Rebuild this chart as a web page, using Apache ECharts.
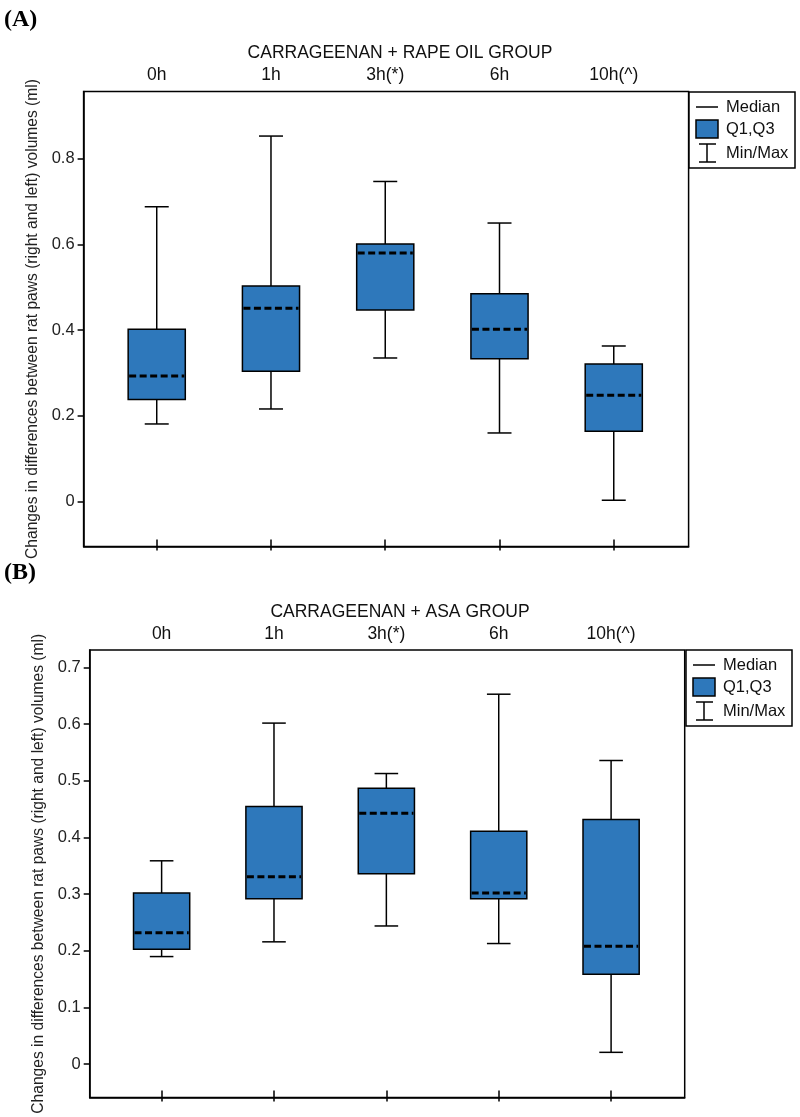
<html lang="en">
<head>
    <meta charset="UTF-8">
    <title>Carrageenan paw volume box plots</title>
    <script src="https://cdn.jsdelivr.net/npm/echarts@6.0.0/dist/echarts.min.js"></script>
</head>
<style>
    html, body { margin: 0; padding: 0; background: #fff; }
    #container { width: 800px; height: 1117px; }
</style>
<body>
<div id="container"></div>
<script>
    // categories (time points)
    var hours = ['0h', '1h', '3h(*)', '6h', '10h(^)'];
    var yTicksA = [0, 0.2, 0.4, 0.6, 0.8];
    var yTicksB = [0, 0.1, 0.2, 0.3, 0.4, 0.5, 0.6, 0.7];

    // (A) carrageenan + rape oil
    var rapeMin    = [0.181, 0.216, 0.335, 0.160, 0.003];
    var rapeQ1     = [0.238, 0.304, 0.447, 0.333, 0.164];
    var rapeMedian = [0.293, 0.451, 0.580, 0.402, 0.248];
    var rapeQ3     = [0.402, 0.503, 0.601, 0.485, 0.321];
    var rapeMax    = [0.688, 0.853, 0.747, 0.650, 0.363];

    // (B) carrageenan + ASA
    var asaMin    = [0.190, 0.216, 0.244, 0.213, 0.021];
    var asaQ1     = [0.203, 0.292, 0.336, 0.292, 0.159];
    var asaMedian = [0.232, 0.331, 0.443, 0.302, 0.208];
    var asaQ3     = [0.302, 0.455, 0.487, 0.411, 0.432];
    var asaMax    = [0.359, 0.602, 0.513, 0.653, 0.536];

    var BLUE = '#2e78bb';
    var FONT = 'Liberation Sans, Arial, sans-serif';
    var X_MIN = -0.64, X_MAX = 4.655;
    var xPos = hours.map(function (h, i) { return i; });

    function boxData(mn, q1, md, q3, mx) {
        return hours.map(function (h, i) {
            return [i, mn[i], q1[i], md[i], q3[i], mx[i]];
        });
    }

    // box, whiskers, caps and dashed median
    function renderBox(params, api) {
        var x = api.value(0);
        var lo = api.coord([x, api.value(1)]);
        var q1 = api.coord([x, api.value(2)]);
        var md = api.coord([x, api.value(3)]);
        var q3 = api.coord([x, api.value(4)]);
        var hi = api.coord([x, api.value(5)]);
        var unit = api.size([1, 0])[0];
        var bw = unit * 0.25, cw = unit * 0.105;
        var st = { stroke: '#000', lineWidth: 1.5 };
        return {
            type: 'group',
            children: [
                { type: 'line', shape: { x1: hi[0], y1: hi[1], x2: q3[0], y2: q3[1] }, style: st },
                { type: 'line', shape: { x1: q1[0], y1: q1[1], x2: lo[0], y2: lo[1] }, style: st },
                { type: 'line', shape: { x1: hi[0] - cw, y1: hi[1], x2: hi[0] + cw, y2: hi[1] }, style: st },
                { type: 'line', shape: { x1: lo[0] - cw, y1: lo[1], x2: lo[0] + cw, y2: lo[1] }, style: st },
                { type: 'rect', shape: { x: q3[0] - bw, y: q3[1], width: bw * 2, height: q1[1] - q3[1] },
                  style: { fill: BLUE, stroke: '#000', lineWidth: 1.5 } },
                { type: 'line', shape: { x1: md[0] - bw + 1, y1: md[1], x2: md[0] + bw - 1, y2: md[1] },
                  style: { stroke: '#000', lineWidth: 3, lineDash: [7, 3.5] } }
            ]
        };
    }

    function xAxes(gi) {
        var base = { type: 'value', gridIndex: gi, min: X_MIN, max: X_MAX, splitLine: { show: false } };
        return [
            Object.assign({}, base, {
                position: 'bottom',
                axisLine: { show: true, onZero: false, lineStyle: { color: '#000', width: 1.5 } },
                axisTick: { show: true, inside: false, length: 4, customValues: xPos, lineStyle: { color: '#000', width: 1.5 } },
                axisLabel: { show: false }
            }),
            Object.assign({}, base, {
                position: 'bottom',
                axisLine: { show: false, onZero: false },
                axisTick: { show: true, inside: true, length: 7, customValues: xPos, lineStyle: { color: '#000', width: 1.5 } },
                axisLabel: { show: false }
            }),
            Object.assign({}, base, {
                position: 'top',
                axisLine: { show: false, onZero: false },
                axisTick: { show: false },
                axisLabel: {
                    show: true, customValues: xPos, margin: 7,
                    fontSize: 17.5, color: '#111', fontFamily: FONT,
                    formatter: function (v) { return hours[Math.round(v)]; }
                }
            })
        ];
    }

    function yAxis(gi, mn, mx, ticks) {
        return {
            type: 'value', gridIndex: gi, min: mn, max: mx,
            name: 'Changes in differences between rat paws (right and left) volumes (ml)',
            nameLocation: 'middle', nameGap: 40,
            nameTextStyle: { fontSize: 15.6, color: '#222', fontFamily: FONT },
            axisLine: { show: true, onZero: false, lineStyle: { color: '#000', width: 1.5 } },
            axisTick: { show: true, length: 6, customValues: ticks, lineStyle: { color: '#000', width: 1.5 } },
            axisLabel: {
                customValues: ticks, margin: 9, fontSize: 16.5, color: '#222', fontFamily: FONT,
                formatter: function (v) { return v === 0 ? '0' : v.toFixed(1); }
            },
            splitLine: { show: false }
        };
    }

    function legendBox(x0, y0) {
        var st = { stroke: '#000', lineWidth: 1.5 };
        var ts = { fontSize: 16.5, fill: '#111', fontFamily: FONT, verticalAlign: 'middle' };
        return [
            { type: 'rect', shape: { x: x0, y: y0, width: 106, height: 76 }, style: { fill: '#fff', stroke: '#000', lineWidth: 1.5 } },
            { type: 'line', shape: { x1: x0 + 7, y1: y0 + 15, x2: x0 + 29, y2: y0 + 15 }, style: st },
            { type: 'text', x: x0 + 37, y: y0 + 15, style: Object.assign({ text: 'Median' }, ts) },
            { type: 'rect', shape: { x: x0 + 7, y: y0 + 28, width: 22, height: 18 }, style: { fill: BLUE, stroke: '#000', lineWidth: 1.5 } },
            { type: 'text', x: x0 + 37, y: y0 + 37, style: Object.assign({ text: 'Q1,Q3' }, ts) },
            { type: 'line', shape: { x1: x0 + 18, y1: y0 + 52, x2: x0 + 18, y2: y0 + 70 }, style: st },
            { type: 'line', shape: { x1: x0 + 10, y1: y0 + 52, x2: x0 + 27, y2: y0 + 52 }, style: st },
            { type: 'line', shape: { x1: x0 + 10, y1: y0 + 70, x2: x0 + 27, y2: y0 + 70 }, style: st },
            { type: 'text', x: x0 + 37, y: y0 + 61, style: Object.assign({ text: 'Min/Max' }, ts) }
        ];
    }

    var chart = echarts.init(document.getElementById('container'), null, { renderer: 'canvas' });

    var titleStyle = { fontSize: 17.5, fontWeight: 'normal', color: '#111', fontFamily: FONT };
    var panelStyle = {
        fontSize: 24, color: '#000', fontFamily: 'Liberation Serif, Times New Roman, serif',
        rich: { b: { fontSize: 24, fontWeight: 'bold', fontFamily: 'Liberation Serif, Times New Roman, serif' } }
    };

    var option = {
        backgroundColor: '#fff',
        animation: false,
        title: [
            { text: '({b|A})', left: 4, top: 8, padding: 0, textStyle: panelStyle },
            { text: 'CARRAGEENAN + RAPE OIL GROUP', left: 'center', top: 44, padding: 0, textStyle: titleStyle },
            { text: '({b|B})', left: 4, top: 561, padding: 0, textStyle: panelStyle },
            { text: 'CARRAGEENAN + ASA GROUP', left: 'center', top: 603, padding: 0, textStyle: titleStyle }
        ],
        grid: [
            { left: 83.6, top: 91.5, width: 605, height: 455, show: true, borderColor: '#000', borderWidth: 1.5, backgroundColor: '#fff' },
            { left: 89.7, top: 650, width: 595, height: 447.5, show: true, borderColor: '#000', borderWidth: 1.5, backgroundColor: '#fff' }
        ],
        xAxis: xAxes(0).concat(xAxes(1)),
        yAxis: [
            yAxis(0, -0.105, 0.957, yTicksA),
            yAxis(1, -0.0587, 0.731, yTicksB)
        ],
        series: [
            {
                name: 'CARRAGEENAN + RAPE OIL GROUP', type: 'custom',
                xAxisIndex: 0, yAxisIndex: 0,
                encode: { x: 0, y: [1, 2, 3, 4, 5] },
                renderItem: renderBox,
                data: boxData(rapeMin, rapeQ1, rapeMedian, rapeQ3, rapeMax)
            },
            {
                name: 'CARRAGEENAN + ASA GROUP', type: 'custom',
                xAxisIndex: 3, yAxisIndex: 1,
                encode: { x: 0, y: [1, 2, 3, 4, 5] },
                renderItem: renderBox,
                data: boxData(asaMin, asaQ1, asaMedian, asaQ3, asaMax)
            }
        ],
        graphic: legendBox(689, 92).concat(legendBox(686, 650))
    };

    chart.setOption(option);
</script>
</body>
</html>
